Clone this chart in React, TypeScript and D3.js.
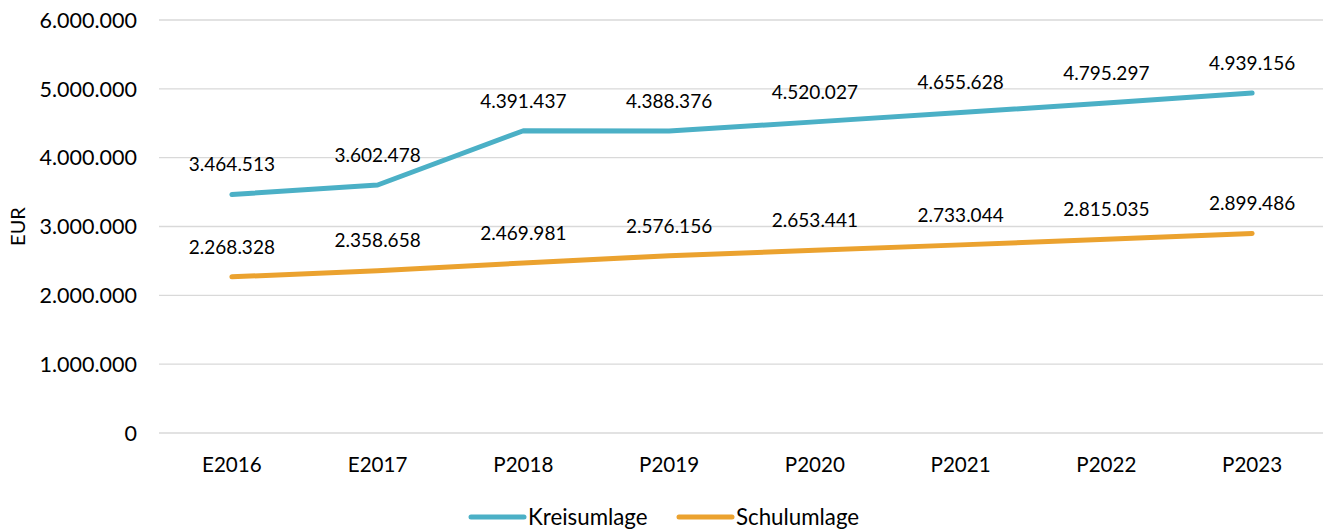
import React from "react";
import * as d3 from "d3";

const categories = ["E2016", "E2017", "P2018", "P2019", "P2020", "P2021", "P2022", "P2023"];
const kreisumlage = [3464513, 3602478, 4391437, 4388376, 4520027, 4655628, 4795297, 4939156];
const schulumlage = [2268328, 2358658, 2469981, 2576156, 2653441, 2733044, 2815035, 2899486];
const yTicks = [0, 1000000, 2000000, 3000000, 4000000, 5000000, 6000000];
const seriesNames = ["Kreisumlage", "Schulumlage"];
const seriesColors = ["#4BB0C6", "#EBA22F"];

const W = 1325;
const H = 529;
const FONT = "Lato, 'Open Sans', sans-serif";

const fmt = (v: number) => {
  const s = Math.round(v).toString();
  return s.replace(/\B(?=(\d{3})+(?!\d))/g, ".");
};

export default function App() {
  const x = d3.scaleBand<string>().domain(categories).range([159, 1325]);
  const y = d3.scaleLinear().domain([0, 6000000]).range([433, 20]);
  const cx = (c: string) => (x(c) ?? 0) + x.bandwidth() / 2;
  const line = d3
    .line<number>()
    .x((_, i) => cx(categories[i]))
    .y((d) => y(d));
  const series = [kreisumlage, schulumlage];

  return (
    <svg
      width={W}
      height={H}
      style={{ position: "absolute", left: 0, top: 0, background: "#fff" }}
      fontFamily={FONT}
    >
      {yTicks.map((t) => (
        <g key={t}>
          <line x1={159} x2={1323} y1={y(t)} y2={y(t)} stroke="#d9d9d9" strokeWidth={1.3} />
          <text x={137} y={y(t)} dy="0.36em" textAnchor="end" fontSize={21.5} fill="#000">
            {fmt(t)}
          </text>
        </g>
      ))}
      <text
        transform={`translate(18,${y(3000000)}) rotate(-90)`}
        textAnchor="middle"
        dy="0.36em"
        fontSize={20}
        fill="#000"
      >
        EUR
      </text>
      {categories.map((c) => (
        <text key={c} x={cx(c)} y={465} dy="0.36em" textAnchor="middle" fontSize={20.6} fill="#000">
          {c}
        </text>
      ))}
      {series.map((s, si) => (
        <path
          key={si}
          d={line(s) ?? ""}
          fill="none"
          stroke={seriesColors[si]}
          strokeWidth={5}
          strokeLinecap="round"
          strokeLinejoin="round"
        />
      ))}
      {series.map((s, si) =>
        s.map((v, i) => (
          <text
            key={`${si}-${i}`}
            x={cx(categories[i])}
            y={y(v) - 30}
            dy="0.36em"
            textAnchor="middle"
            fontSize={19}
            fill="#000"
          >
            {fmt(v)}
          </text>
        ))
      )}
      {seriesNames.map((n, i) => {
        const lx = i === 0 ? 471 : 679;
        return (
          <g key={n}>
            <line
              x1={lx}
              x2={lx + 53}
              y1={517}
              y2={517}
              stroke={seriesColors[i]}
              strokeWidth={5}
              strokeLinecap="round"
            />
            <text x={lx + 57} y={517} dy="0.36em" fontSize={22.3} fill="#000">
              {n}
            </text>
          </g>
        );
      })}
    </svg>
  );
}
